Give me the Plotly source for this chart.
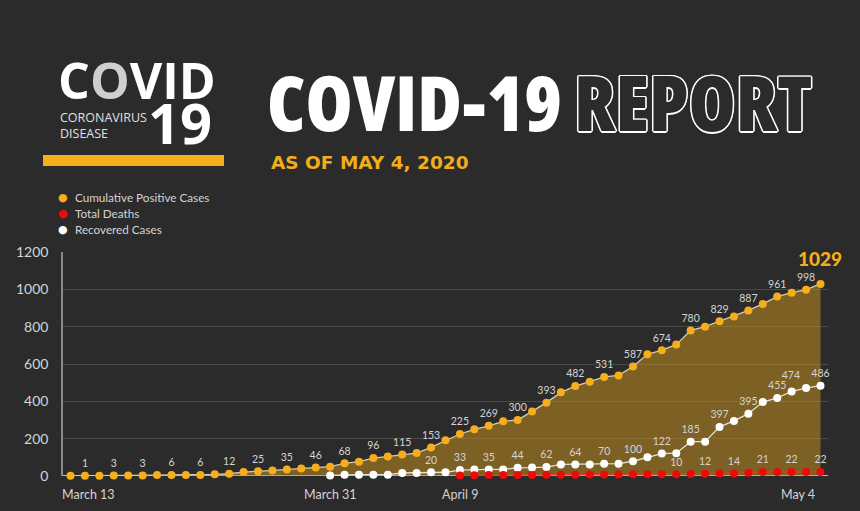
import plotly.graph_objects as go
import pandas as pd

# ---------------- data ----------------
dates = pd.date_range("2020-03-13", "2020-05-04", freq="D")

cumulative = [1, 1, 2, 3, 3, 3, 5, 6, 6, 6, 9, 12, 21, 25, 30, 35, 40, 46, 50, 68,
              77, 96, 105, 115, 123, 153, 191, 225, 250, 269, 293, 300, 346, 393, 448, 482,
              505, 531, 539, 587, 652, 674, 704, 780, 800, 829, 854, 887, 922, 961, 982, 998, 1029]

recovered = [None] * 18 + [3, 7, 7, 7, 7, 16, 16, 20, 20, 32, 35, 35, 35, 44, 45, 48, 62,
                           62, 62, 66, 66, 79, 100, 120, 122, 184, 184, 263, 295, 334, 396,
                           418, 453, 471, 484]

deaths = [None] * 27 + [3, 4, 5, 5, 6, 6, 7, 7, 7, 8, 8, 8, 9, 9, 10, 10, 11, 12, 13, 14,
                        17, 21, 21, 22, 22, 22]

cum_labels = ["", "1", "", "3", "", "3", "", "6", "", "6", "", "12", "", "25", "", "35", "", "46",
              "", "68", "", "96", "", "115", "", "153", "", "225", "", "269", "", "300", "", "393",
              "", "482", "", "531", "", "587", "", "674", "", "780", "", "829", "", "887", "", "961",
              "", "998", ""]

rec_labels = [""] * 25 + ["20", "", "33", "", "35", "", "44", "", "62", "", "64", "", "70", "",
                          "100", "", "122", "", "185", "", "397", "", "395", "", "455", "", "474", "486"]

death_labels = [""] * 42 + ["10", "", "12", "", "14", "", "21", "", "22", "", "22"]

x_tick_labels = ["March 13", "March 31", "April 9", "May 4"]
x_tick_dates = ["2020-03-13", "2020-03-31", "2020-04-09", "2020-05-04"]

series_names = ["Cumulative Positive Cases", "Total Deaths", "Recovered Cases"]
series_colors = ["#f6ae1c", "#ee0a0a", "#ffffff"]

# ---------------- styling ----------------
BG = "#2b2b2b"
LABEL = "#d4d4d4"
FONT = "Lato, 'Open Sans', sans-serif"
TITLE_FONT = "'Open Sans', sans-serif"
W, H = 860, 511
ML, MR, MT, MB = 63, 32, 252, 35
PW, PH = W - ML - MR, H - MT - MB


def px(xp):
    return (xp - ML) / PW


def py(yp):
    return (H - MB - yp) / PH


fig = go.Figure()

fig.add_trace(go.Scatter(
    x=dates, y=cumulative, mode="lines+markers+text", fill="tozeroy",
    fillcolor="rgba(200,146,30,0.52)",
    line=dict(color="#d8cdb4", width=1.3),
    marker=dict(color="#f6ae1c", size=8),
    text=cum_labels, textposition="top center",
    textfont=dict(size=10.5, color=LABEL, family=FONT),
    cliponaxis=False, showlegend=False, hoverinfo="skip"))

rec_pos = ["top center"] * len(recovered)
rec_pos[-2] = "top left"
fig.add_trace(go.Scatter(
    x=dates, y=recovered, mode="lines+markers+text",
    line=dict(color="#e8e2d4", width=1.3),
    marker=dict(color="#ffffff", size=8),
    text=rec_labels, textposition=rec_pos,
    textfont=dict(size=10.5, color=LABEL, family=FONT),
    cliponaxis=False, showlegend=False, hoverinfo="skip"))

fig.add_trace(go.Scatter(
    x=dates, y=deaths, mode="lines+markers+text",
    line=dict(color="#e8400c", width=1.3),
    marker=dict(color="#ee0a0a", size=8),
    text=death_labels, textposition="top center",
    textfont=dict(size=10.5, color=LABEL, family=FONT),
    cliponaxis=False, showlegend=False, hoverinfo="skip"))

annotations = []
# final cumulative value, highlighted
annotations.append(dict(x=dates[-1], y=cumulative[-1], xref="x", yref="y", text=str(cumulative[-1]),
                        showarrow=False, yanchor="bottom", yshift=12,
                        font=dict(size=19, color="#f6ae1c", family=FONT, weight=900)))

# legend (dot + label)
for i, (name, col) in enumerate(zip(series_names, series_colors)):
    yy = 197 + 16 * i
    annotations.append(dict(x=px(63), y=py(yy), text="●", xanchor="center", yanchor="middle",
                            font=dict(size=11, color=col, family="DejaVu Sans")))
    annotations.append(dict(x=px(73), y=py(yy), text=name, xanchor="left", yanchor="middle",
                            font=dict(size=11.7, color=LABEL, family=FONT)))

# x tick labels
anchors = ["left", "center", "center", "right"]
shifts = [-11, 0, 0, -3]
for lab, d, a, s in zip(x_tick_labels, x_tick_dates, anchors, shifts):
    annotations.append(dict(x=d, xref="x", y=py(494), yref="paper", text=lab,
                            showarrow=False, xanchor=a, yanchor="middle", xshift=s,
                            font=dict(size=12.5, color=LABEL, family=FONT)))

OUTLINE = ("1.5px 0 0 #fff, -1.5px 0 0 #fff, 0 1.5px 0 #fff, 0 -1.5px 0 #fff, "
           "1px 1px 0 #fff, -1px -1px 0 #fff, 1px -1px 0 #fff, -1px 1px 0 #fff")
NARROW = "<span style='font-stretch:75%'>{}</span>"

# header
annotations += [
    dict(x=px(56), y=py(80), text="C<span style='color:#cfcfcf'>O</span>VID", xanchor="left",
         yanchor="middle", font=dict(size=50, color="white", family=TITLE_FONT, weight=700)),
    dict(x=px(58), y=py(117), text="CORONAVIRUS", xanchor="left", yanchor="middle",
         font=dict(size=12.5, color="#e0e0e0", family=TITLE_FONT)),
    dict(x=px(58), y=py(133), text="DISEASE", xanchor="left", yanchor="middle",
         font=dict(size=12.5, color="#e0e0e0", family=TITLE_FONT)),
    dict(x=px(146), y=py(122), text="19", xanchor="left", yanchor="middle",
         font=dict(size=56, color="white", family=TITLE_FONT, weight=700)),
    dict(x=px(265), y=py(101), text=NARROW.format("COVID-19"), xanchor="left", yanchor="middle",
         font=dict(size=76, color="white", family=TITLE_FONT, weight=800)),
    dict(x=px(814), y=py(101), text=NARROW.format("REPORT"),
         xanchor="right", yanchor="middle",
         font=dict(size=76, color=BG, family=TITLE_FONT, weight=800, shadow=OUTLINE)),
    dict(x=px(269), y=py(162), text="AS OF MAY 4, 2020", xanchor="left", yanchor="middle",
         font=dict(size=18.5, color="#f2ad1c", family="'DejaVu Sans', sans-serif", weight=700)),
]
for a in annotations:
    a.setdefault("xref", "paper")
    a.setdefault("yref", "paper")
    a.setdefault("showarrow", False)

shapes = [dict(type="rect", xref="paper", yref="paper", x0=px(43), x1=px(224), y0=py(166), y1=py(155),
               fillcolor="#f6b01a", line=dict(width=0), layer="above"),
          dict(type="line", xref="paper", yref="y", x0=0, x1=1, y0=0, y1=0,
               line=dict(color="#bdbdbd", width=2), layer="below")]

fig.update_layout(
    width=W, height=H, margin=dict(l=ML, r=MR, t=MT, b=MB),
    paper_bgcolor=BG, plot_bgcolor=BG,
    font=dict(family=FONT, color=LABEL),
    annotations=annotations, shapes=shapes, showlegend=False,
    xaxis=dict(range=[pd.Timestamp("2020-03-12 11:30"), pd.Timestamp("2020-05-04 12:30")],
               showgrid=False, zeroline=False, showticklabels=False, showline=False, ticks=""),
    yaxis=dict(range=[0, 1200], dtick=200, gridcolor="#4a4a4a", gridwidth=1, zeroline=False,
               showline=True, linecolor="#8a8a8a", linewidth=1.5, ticks="outside", ticklen=10,
               tickcolor="rgba(0,0,0,0)", tickfont=dict(size=14, color=LABEL, family=FONT)),
)

fig.write_html("out.html")
